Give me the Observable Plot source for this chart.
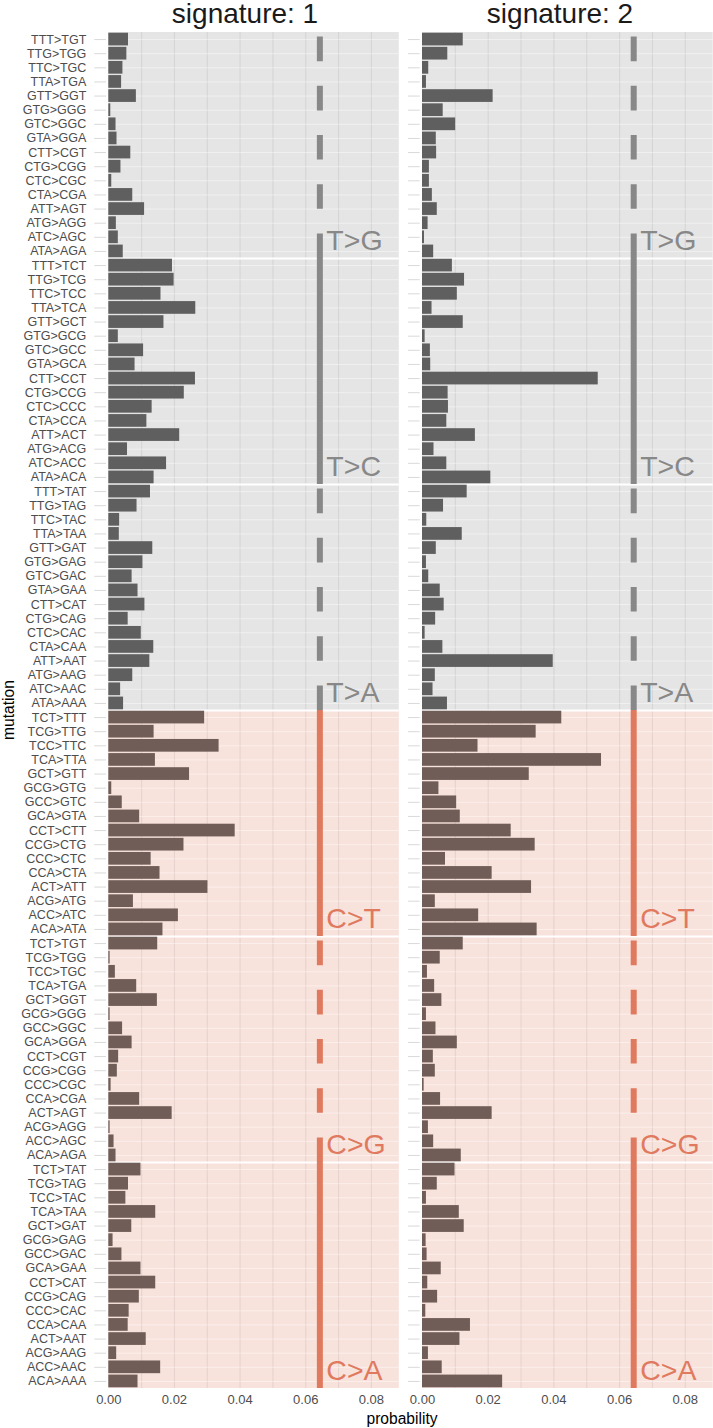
<!DOCTYPE html>
<html>
<head>
<meta charset="utf-8">
<script src="https://cdn.jsdelivr.net/npm/d3@7"></script>
<script src="https://cdn.jsdelivr.net/npm/@observablehq/plot@0.6"></script>
<style>
html, body { margin: 0; padding: 0; background: #ffffff; overflow: hidden; }
#wrap { position: relative; width: 713px; height: 1428px; font-family: "Liberation Sans", Arial, Helvetica, sans-serif; }
.t { position: absolute; white-space: nowrap; line-height: 1; }
</style>
</head>
<body>
<div id="wrap"></div>
<script>
// ---- categories (top to bottom) ----
const mutations = [
  "TTT>TGT","TTG>TGG","TTC>TGC","TTA>TGA","GTT>GGT","GTG>GGG","GTC>GGC","GTA>GGA",
  "CTT>CGT","CTG>CGG","CTC>CGC","CTA>CGA","ATT>AGT","ATG>AGG","ATC>AGC","ATA>AGA",
  "TTT>TCT","TTG>TCG","TTC>TCC","TTA>TCA","GTT>GCT","GTG>GCG","GTC>GCC","GTA>GCA",
  "CTT>CCT","CTG>CCG","CTC>CCC","CTA>CCA","ATT>ACT","ATG>ACG","ATC>ACC","ATA>ACA",
  "TTT>TAT","TTG>TAG","TTC>TAC","TTA>TAA","GTT>GAT","GTG>GAG","GTC>GAC","GTA>GAA",
  "CTT>CAT","CTG>CAG","CTC>CAC","CTA>CAA","ATT>AAT","ATG>AAG","ATC>AAC","ATA>AAA",
  "TCT>TTT","TCG>TTG","TCC>TTC","TCA>TTA","GCT>GTT","GCG>GTG","GCC>GTC","GCA>GTA",
  "CCT>CTT","CCG>CTG","CCC>CTC","CCA>CTA","ACT>ATT","ACG>ATG","ACC>ATC","ACA>ATA",
  "TCT>TGT","TCG>TGG","TCC>TGC","TCA>TGA","GCT>GGT","GCG>GGG","GCC>GGC","GCA>GGA",
  "CCT>CGT","CCG>CGG","CCC>CGC","CCA>CGA","ACT>AGT","ACG>AGG","ACC>AGC","ACA>AGA",
  "TCT>TAT","TCG>TAG","TCC>TAC","TCA>TAA","GCT>GAT","GCG>GAG","GCC>GAC","GCA>GAA",
  "CCT>CAT","CCG>CAG","CCC>CAC","CCA>CAA","ACT>AAT","ACG>AAG","ACC>AAC","ACA>AAA"
];

// ---- series values (probability) ----
const sig1 = [
  0.0060,0.0055,0.0043,0.0039,0.0084,0.0006,0.0022,0.0025,0.0067,0.0037,0.0009,0.0073,0.0109,0.0023,0.0029,0.0044,
  0.0194,0.0199,0.0159,0.0265,0.0168,0.0029,0.0106,0.0080,0.0264,0.0230,0.0132,0.0116,0.0216,0.0057,0.0176,0.0138,
  0.0127,0.0086,0.0033,0.0032,0.0134,0.0104,0.0071,0.0089,0.0110,0.0059,0.0099,0.0137,0.0125,0.0073,0.0036,0.0045,
  0.0292,0.0138,0.0336,0.0142,0.0246,0.0009,0.0041,0.0094,0.0385,0.0229,0.0129,0.0156,0.0302,0.0075,0.0212,0.0165,
  0.0149,0.0004,0.0020,0.0085,0.0148,0.0004,0.0042,0.0071,0.0030,0.0026,0.0007,0.0094,0.0193,0.0004,0.0016,0.0022,
  0.0098,0.0060,0.0052,0.0143,0.0070,0.0013,0.0040,0.0098,0.0143,0.0093,0.0062,0.0059,0.0114,0.0024,0.0158,0.0089
];
const sig2 = [
  0.0124,0.0077,0.0019,0.0012,0.0215,0.0063,0.0101,0.0042,0.0043,0.0021,0.0021,0.0030,0.0045,0.0017,0.0006,0.0034,
  0.0091,0.0128,0.0106,0.0029,0.0124,0.0008,0.0024,0.0025,0.0535,0.0078,0.0079,0.0074,0.0161,0.0035,0.0074,0.0208,
  0.0136,0.0064,0.0013,0.0121,0.0042,0.0012,0.0019,0.0054,0.0066,0.0040,0.0008,0.0062,0.0398,0.0039,0.0032,0.0076,
  0.0424,0.0346,0.0169,0.0545,0.0325,0.0050,0.0104,0.0115,0.0270,0.0343,0.0070,0.0212,0.0332,0.0039,0.0171,0.0349,
  0.0124,0.0054,0.0015,0.0037,0.0059,0.0012,0.0041,0.0106,0.0033,0.0039,0.0005,0.0055,0.0212,0.0018,0.0034,0.0118,
  0.0099,0.0045,0.0012,0.0112,0.0127,0.0011,0.0014,0.0057,0.0016,0.0046,0.0010,0.0146,0.0114,0.0018,0.0060,0.0244
];

// ---- groups ----
const groups = ["T>G","T>C","T>A","C>T","C>G","C>A"];
const groupDashed = [true, false, true, false, true, false];
const groupSize = 16;

// ---- axis ticks / constants ----
const xTicks = [0, 0.02, 0.04, 0.06, 0.08];
const gridTicks = [0.01, 0.02, 0.03, 0.04, 0.05, 0.06, 0.07, 0.08];
const xMax = 0.0885;
const guideX = 0.0643;
const panelTitles = ["signature: 1", "signature: 2"];

const palette = {
  T: {bg: "#e5e5e5", line: "#888888", bar: "#5f5f5f"},
  C: {bg: "#f8e2dc", line: "#e07a5f", bar: "#705d57"}
};

function panel(values, showLabels, width, marginLeft, marginRight) {
  const rows = mutations.map((m, i) => ({i, m, g: Math.floor(i / groupSize), value: values[i]}));
  rows.forEach(d => d.ref = groups[d.g][0]);
  const grp = groups.map((name, g) => ({name, g, start: g * groupSize, ref: name[0], dashed: groupDashed[g]}));
  const top = d => d.start - 0.5;
  const bottom = d => d.start + groupSize - 0.5;
  const yTicks = d3.range(mutations.length);
  return Plot.plot({
    width, height: 1428,
    marginLeft, marginRight, marginTop: 32, marginBottom: 40,
    x: {domain: [0, xMax]},
    y: {domain: [-0.5, mutations.length - 0.5], reverse: true},
    color: {type: "identity"},
    style: {fontFamily: '"Liberation Sans", Arial, Helvetica, sans-serif', fontSize: "12.5px", background: "transparent", overflow: "visible"},
    marks: [
      Plot.rect(grp, {y1: top, y2: bottom, fill: d => palette[d.ref].bg}),
      Plot.ruleX(gridTicks, {stroke: "#000000", strokeOpacity: 0.065, strokeWidth: 1.2}),
      Plot.ruleY(rows, {y: "i", stroke: "#ffffff", strokeOpacity: 0.45, strokeWidth: 1}),
      Plot.ruleY(grp.filter(d => d.g > 0), {y: top, stroke: "#ffffff", strokeWidth: 2}),
      Plot.rect(rows, {x1: () => 0, x2: "value", y1: d => d.i - 0.45, y2: d => d.i + 0.45, fill: d => palette[d.ref].bar}),
      Plot.ruleX(grp.filter(d => d.dashed), {x: () => guideX, y1: bottom, y2: top, stroke: d => palette[d.ref].line, strokeWidth: 6, strokeDasharray: "24.6,24.6"}),
      Plot.ruleX(grp.filter(d => !d.dashed), {x: () => guideX, y1: bottom, y2: top, stroke: d => palette[d.ref].line, strokeWidth: 6}),
      Plot.text(grp, {x: () => guideX, y: bottom, text: "name", textAnchor: "start", lineAnchor: "middle", dx: 6.5, dy: -18, fontSize: 28.5, fill: d => palette[d.ref].line}),
      Plot.axisY(yTicks, {
        tickFormat: showLabels ? (i => mutations[i]) : (() => ""),
        tickSize: 11.7, tickPadding: 8.5, dx: -2.3,
        stroke: "#d9d9d9", fill: "#4d4d4d", fontSize: 12.5, label: null
      }),
      Plot.axisX(xTicks, {
        tickFormat: d3.format(".2f"), tickSize: 0, tickPadding: 6.5,
        fill: "#4d4d4d", fontSize: 13, label: null
      })
    ]
  });
}

const wrap = document.getElementById("wrap");
const p1 = panel(sig1, true, 400, 108.3, 1.2);
const p2 = panel(sig2, false, 313, 22, 0.3);
[[p1, 0], [p2, 400]].forEach(([el, left]) => {
  el.style.position = "absolute";
  el.style.left = left + "px";
  el.style.top = "0px";
  wrap.appendChild(el);
});

function addText(txt, css) {
  const d = document.createElement("div");
  d.className = "t";
  d.textContent = txt;
  Object.assign(d.style, css);
  wrap.appendChild(d);
}
addText(panelTitles[0], {left: "245px", top: "-0.5px", fontSize: "28px", color: "#1a1a1a", transform: "translateX(-50%)"});
addText(panelTitles[1], {left: "560px", top: "-0.5px", fontSize: "28px", color: "#1a1a1a", transform: "translateX(-50%)"});
addText("probability", {left: "402px", top: "1410.8px", fontSize: "15.6px", color: "#000000", transform: "translateX(-50%)"});
addText("mutation", {left: "9px", top: "710px", fontSize: "15.6px", color: "#000000", transform: "translate(-50%, -50%) rotate(-90deg)"});
</script>
</body>
</html>
